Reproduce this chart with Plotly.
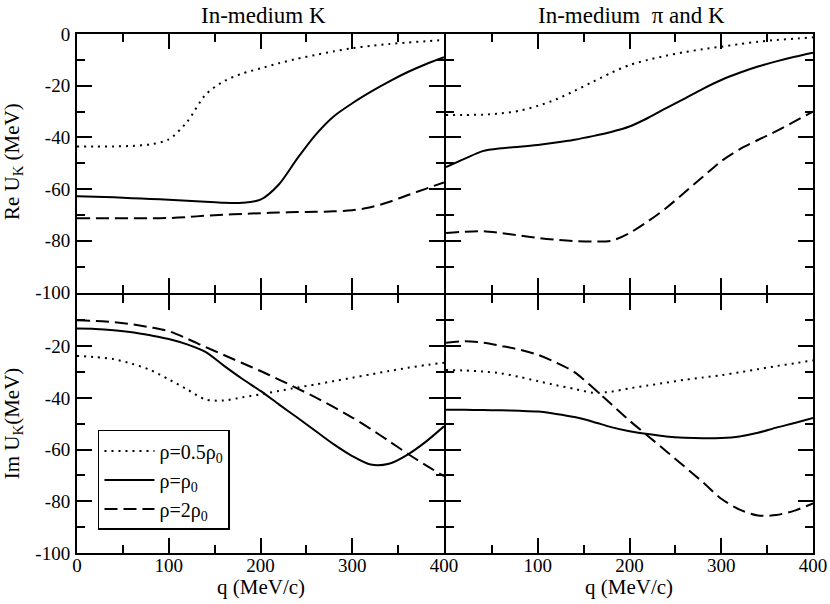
import plotly.graph_objects as go
from plotly.subplots import make_subplots

# momentum grid (MeV/c), shared by every curve
q = [0, 20, 40, 60, 80, 100, 120, 140, 160, 180, 200,
     220, 240, 260, 280, 300, 320, 340, 360, 380, 400]

# Re U_K, in-medium K
re_k_half = [-43.5, -43.5, -43.5, -43.3, -42.7, -40.8, -34.0, -23.5, -18.3, -15.3, -13.3,
             -11.3, -9.6, -8.1, -6.7, -5.5, -4.6, -3.9, -3.3, -2.8, -2.3]
re_k_rho0 = [-62.8, -63.0, -63.2, -63.5, -63.8, -64.1, -64.5, -64.9, -65.3, -65.3, -64.1,
             -58.2, -48.2, -39.0, -31.8, -26.8, -22.4, -18.4, -14.8, -11.7, -9.0]
re_k_2rho0 = [-71.3, -71.3, -71.3, -71.3, -71.3, -71.2, -70.8, -70.3, -69.9, -69.6, -69.3,
              -69.1, -68.9, -68.8, -68.6, -68.2, -67.0, -65.0, -62.4, -59.9, -57.4]

# Re U_K, in-medium pi and K
re_pik_half = [-31.3, -31.3, -31.2, -30.7, -29.7, -27.8, -25.3, -22.0, -18.5, -15.0, -12.0,
               -10.0, -8.4, -7.0, -5.9, -4.9, -3.9, -3.0, -2.3, -1.8, -1.3]
re_pik_rho0 = [-51.5, -48.3, -45.3, -44.2, -43.6, -42.9, -42.0, -40.9, -39.5, -37.9, -35.8,
               -32.5, -28.7, -25.0, -21.2, -17.8, -15.0, -12.6, -10.6, -8.8, -7.2]
re_pik_2rho0 = [-77.0, -76.5, -76.3, -77.0, -77.9, -78.9, -79.6, -80.1, -80.3, -80.0, -77.0,
                -72.5, -67.3, -61.3, -55.2, -49.2, -44.6, -41.0, -37.6, -33.8, -30.0]

# Im U_K, in-medium K
im_k_half = [-23.8, -24.2, -25.0, -26.8, -29.2, -32.8, -36.7, -40.6, -41.0, -39.8, -38.6,
             -37.3, -36.0, -34.8, -33.5, -32.2, -30.9, -29.6, -28.4, -27.3, -26.4]
im_k_rho0 = [-13.2, -13.3, -13.8, -14.6, -15.8, -17.2, -19.3, -22.2, -27.5, -32.6, -37.3,
             -42.5, -47.6, -52.8, -58.0, -62.5, -65.8, -65.5, -62.0, -57.0, -51.0]
im_k_2rho0 = [-10.0, -10.2, -10.7, -11.5, -12.7, -14.2, -17.1, -20.3, -23.4, -26.5, -29.6,
              -32.9, -36.3, -39.8, -43.6, -47.6, -52.0, -56.7, -61.5, -66.0, -70.3]

# Im U_K, in-medium pi and K
im_pik_half = [-29.2, -29.4, -29.8, -30.5, -31.9, -33.5, -35.1, -36.5, -38.0, -37.6, -36.3,
               -35.2, -34.1, -33.0, -32.1, -31.2, -30.1, -28.9, -27.7, -26.6, -25.5]
im_pik_rho0 = [-44.6, -44.6, -44.7, -44.8, -45.0, -45.3, -46.2, -47.4, -49.2, -51.3, -52.9,
               -54.0, -54.9, -55.4, -55.6, -55.5, -54.9, -53.5, -51.5, -49.7, -47.8]
im_pik_2rho0 = [-18.7, -18.1, -18.6, -19.9, -21.3, -23.3, -26.3, -30.0, -36.0, -42.4, -48.8,
                -54.7, -60.6, -66.6, -72.6, -79.0, -83.2, -85.5, -85.3, -83.6, -80.8]

labels = ["ρ=0.5ρ<sub>0</sub>", "ρ=ρ<sub>0</sub>", "ρ=2ρ<sub>0</sub>"]
dashes = ["2px,5px", "solid", "13px,6px"]

y_ticks = [-100, -80, -60, -40, -20, 0]
y_text_top = ["-100", "-80", "-60", "-40", "-20", "0"]
y_text_bot = ["-100", "-80", "-60", "-40", "-20", ""]
x_ticks = [0, 100, 200, 300, 400]
x_text_left = ["0", "100", "200", "300", "400"]
x_text_right = ["", "100", "200", "300", "400"]

FONT = "Liberation Serif"
LW = 2
PLOT_W, PLOT_H = 736, 519

fig = make_subplots(rows=2, cols=2, horizontal_spacing=0, vertical_spacing=0)

panels = [
    (1, 1, [re_k_half, re_k_rho0, re_k_2rho0]),
    (1, 2, [re_pik_half, re_pik_rho0, re_pik_2rho0]),
    (2, 1, [im_k_half, im_k_rho0, im_k_2rho0]),
    (2, 2, [im_pik_half, im_pik_rho0, im_pik_2rho0]),
]
for row, col, series in panels:
    for i, ys in enumerate(series):
        fig.add_trace(
            go.Scatter(
                x=q, y=ys, mode="lines", name=labels[i],
                line=dict(color="black", width=2, dash=dashes[i],
                          shape="spline", smoothing=0.8),
                showlegend=(row == 2 and col == 1),
            ),
            row=row, col=col,
        )

axis_common = dict(
    showline=True, linecolor="black", linewidth=LW, mirror="ticks",
    ticks="inside", ticklen=15, tickwidth=1.5, tickcolor="black",
    showgrid=False, zeroline=False, automargin=False,
    tickfont=dict(family=FONT, size=19, color="black"),
)

# axis lines sit half a line width outside their domain, so leave one
# line width between neighbouring panels to make shared edges coincide
gx = LW / 2 / PLOT_W
gy = LW / 2 / PLOT_H
x_dom = {1: [0, 0.5 - gx], 2: [0.5 + gx, 1]}
y_dom = {1: [0.5 + gy, 1], 2: [0, 0.5 - gy]}

for row in (1, 2):
    for col in (1, 2):
        fig.update_xaxes(
            domain=x_dom[col],
            range=[0, 400], tickmode="array", tickvals=x_ticks,
            ticktext=(x_text_left if col == 1 else x_text_right),
            showticklabels=(row == 2),
            ticklabelstandoff=-6,
            minor=dict(tickvals=[50, 150, 250, 350], ticks="inside",
                       ticklen=8, tickwidth=1.5, tickcolor="black"),
            row=row, col=col, **axis_common,
        )
        fig.update_yaxes(
            domain=y_dom[row],
            range=[-100, 0], tickmode="array", tickvals=y_ticks,
            ticktext=(y_text_top if row == 1 else y_text_bot),
            showticklabels=(col == 1),
            ticklabelstandoff=1,
            minor=dict(tickvals=[-90, -70, -50, -30, -10], ticks="inside",
                       ticklen=8, tickwidth=1.5, tickcolor="black"),
            row=row, col=col, **axis_common,
        )

notes = [
    dict(text="In-medium K", x=0.253, y=1.036, size=23, angle=0),
    dict(text="In-medium  π and K", x=0.754, y=1.036, size=23, angle=0),
    dict(text="Re U<sub>K</sub> (MeV)", x=-0.087, y=0.755, size=21, angle=-90),
    dict(text="Im U<sub>K</sub>(MeV)", x=-0.087, y=0.25, size=21, angle=-90),
    dict(text="q (MeV/c)", x=0.25, y=-0.065, size=21, angle=0),
    dict(text="q (MeV/c)", x=0.75, y=-0.065, size=21, angle=0),
]
for n in notes:
    fig.add_annotation(
        text=n["text"], x=n["x"], y=n["y"], xref="paper", yref="paper",
        xanchor="center", yanchor="middle", textangle=n["angle"],
        showarrow=False, font=dict(family=FONT, size=n["size"], color="black"),
    )

fig.update_layout(
    width=830, height=604,
    margin=dict(l=77, r=17, t=34, b=51),
    paper_bgcolor="white", plot_bgcolor="white",
    font=dict(family=FONT, color="black"),
    legend=dict(
        x=0.0285, y=0.237, xanchor="left", yanchor="top",
        bordercolor="black", borderwidth=1.5, bgcolor="white",
        itemwidth=50,
        font=dict(family=FONT, size=20, color="black"),
    ),
)

# drop the default 8px page margin so the figure sits at the window corner
fig.write_html(
    "out.html",
    config={"displayModeBar": False},
    post_script="document.body.style.margin = '0';",
)
